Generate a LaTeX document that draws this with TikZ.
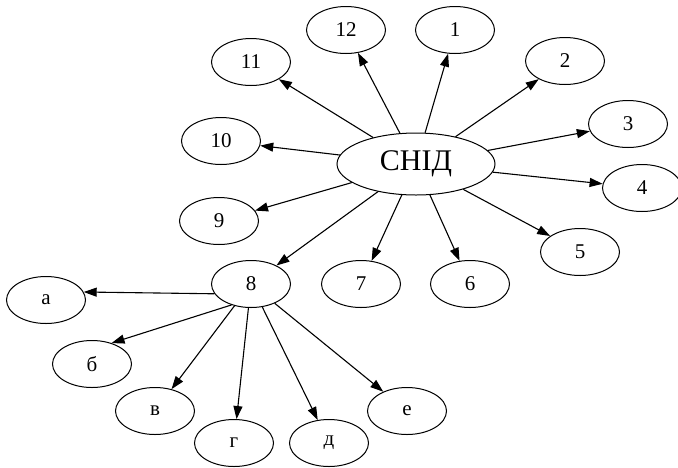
\documentclass[tikz,border=0pt]{standalone}
\usepackage{fontspec}
\setmainfont{Liberation Serif}
\usetikzlibrary{arrows.meta,shapes.geometric}

\begin{document}
\begin{tikzpicture}[x=1pt,y=-1pt,
	bubble/.style={draw, ellipse, line width=1pt, minimum width=79pt, minimum height=47pt, inner sep=0pt, font=\fontsize{21}{21}\selectfont},
	link/.style={line width=1.1pt, -{Triangle[length=13pt,width=9pt]}}]
					\useasboundingbox (0,0) rectangle (678,467);
					
					% Draw the centre ellipse
					\node[bubble, minimum width=158pt, minimum height=62pt, font=\fontsize{30}{30}\selectfont] (snid) at (416,164) {СНІД};
					
					% Draw the twelve ellipses round the centre
					\foreach \name/\x/\y/\t in {n1/455/30/1, n2/565/61/2, n3/628/124/3, n4/642/188/4, n5/580/252/5, n6/470/284/6, n7/361/284/7, eight/251/284/8, n9/219/221/9, n10/221/141/10, n11/251/62/11, n12/346/30/12}
					\node[bubble] (\name) at (\x,\y) {\t};
					
					% Draw the ellipses below 8
					\foreach \name/\x/\y/\t in {a/46/300/а, b/92/364/б, v/155/411/в, g/234/443/г, d/329/443/д, e/407/411/е}
					\node[bubble] (\name) at (\x,\y) {\t};
					
					% Draw arrows from the centre
					\foreach \t in {n1,n2,n3,n4,n5,n6,n7,eight,n9,n10,n11,n12}
					\draw[link] (snid) -- (\t);
					
					% Draw arrows from 8
					\draw[link] (eight.195) -- (a.12);
					\draw[link] (eight.227) -- (b.47);
					\foreach \t in {v,g,d,e}
					\draw[link] (eight) -- (\t);
\end{tikzpicture}
\end{document}
